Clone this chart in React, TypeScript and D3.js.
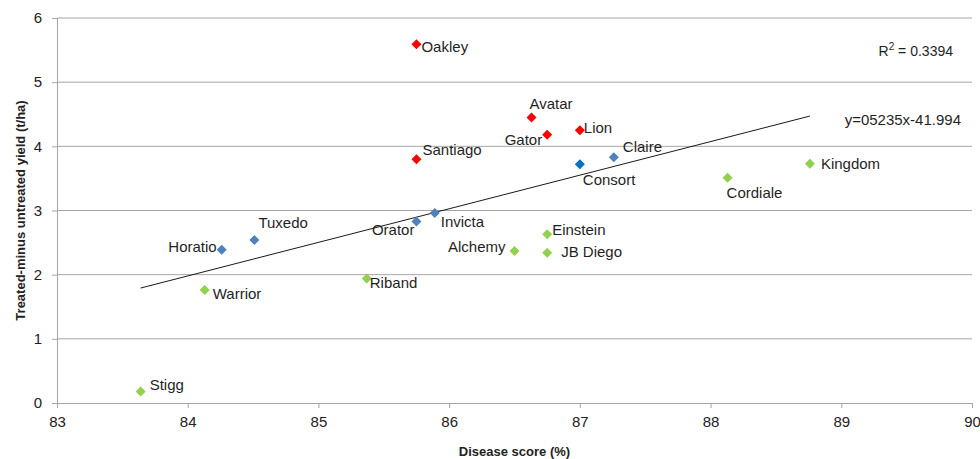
import { useEffect, useRef } from 'react';
import * as d3 from 'd3';

// varieties, disease score (%) and treated-minus-untreated yield (t/ha)
const names = [
  'Oakley', 'Avatar', 'Gator', 'Lion', 'Santiago',
  'Consort', 'Claire', 'Invicta', 'Orator', 'Horatio', 'Tuxedo',
  'Einstein', 'Alchemy', 'JB Diego', 'Riband', 'Warrior', 'Stigg', 'Cordiale', 'Kingdom',
];
const diseaseScore = [
  85.75, 86.63, 86.75, 87.0, 85.75,
  87.0, 87.26, 85.89, 85.75, 84.26, 84.51,
  86.75, 86.5, 86.75, 85.37, 84.13, 83.64, 88.13, 88.76,
];
const yieldDiff = [
  5.59, 4.45, 4.18, 4.25, 3.8,
  3.72, 3.83, 2.96, 2.83, 2.39, 2.54,
  2.63, 2.37, 2.34, 1.94, 1.76, 0.18, 3.51, 3.73,
];
const groups = [
  'red', 'red', 'red', 'red', 'red',
  'navy', 'blue', 'blue', 'blue', 'blue', 'blue',
  'green', 'green', 'green', 'green', 'green', 'green', 'green', 'green',
];

const xTicks = [83, 84, 85, 86, 87, 88, 89, 90];
const yTicks = [0, 1, 2, 3, 4, 5, 6];

// linear trend as printed on the chart
const slope = 0.5235;
const intercept = -41.994;

const COLORS: Record<string, string> = {
  red: '#ff0000',
  navy: '#0070c0',
  blue: '#4f81bd',
  green: '#92d050',
};

// label placement around each marker: [dx, dy, anchor]
const LABEL_POS: Record<string, [number, number, string]> = {
  Oakley: [5, 2, 'start'],
  Avatar: [-2, -14, 'start'],
  Gator: [-5, 5, 'end'],
  Lion: [4, -3, 'start'],
  Santiago: [6, -10, 'start'],
  Consort: [3, 15, 'start'],
  Claire: [9, -11, 'start'],
  Invicta: [6, 8, 'start'],
  Orator: [-2, 8, 'end'],
  Horatio: [-5, -3, 'end'],
  Tuxedo: [4, -18, 'start'],
  Einstein: [5, -5, 'start'],
  Alchemy: [-9, -4, 'end'],
  'JB Diego': [14, -1, 'start'],
  Riband: [3, 4, 'start'],
  Warrior: [8, 3, 'start'],
  Stigg: [9, -7, 'start'],
  Cordiale: [-1, 15, 'start'],
  Kingdom: [11, 0, 'start'],
};

const FONT = '"Liberation Sans", Arial, sans-serif';

export default function App() {
  const svgRef = useRef<SVGSVGElement>(null);

  useEffect(() => {
    if (!svgRef.current) return;
    const svg = d3.select(svgRef.current);
    svg.selectAll('*').remove();

    const width = 980;
    const height = 459;
    const margin = { left: 57, right: 8, top: 18, bottom: 56 };

    const x = d3.scaleLinear().domain([83, 90]).range([margin.left, width - margin.right]);
    const y = d3.scaleLinear().domain([0, 6]).range([height - margin.bottom, margin.top]);

    svg.attr('width', width).attr('height', height).style('font-family', FONT);

    // gridlines
    svg
      .append('g')
      .selectAll('line')
      .data(yTicks.filter((t) => t > 0))
      .enter()
      .append('line')
      .attr('x1', x(83))
      .attr('x2', x(90))
      .attr('y1', (d) => y(d))
      .attr('y2', (d) => y(d))
      .attr('stroke', '#a6a6a6')
      .attr('stroke-width', 1);

    // x axis
    const xAxis = svg
      .append('g')
      .attr('transform', `translate(0,${y(0)})`)
      .call(d3.axisBottom(x).tickValues(xTicks).tickSize(5).tickPadding(8).tickFormat(d3.format('d')));
    xAxis.select('.domain').attr('stroke', '#a6a6a6');
    xAxis.selectAll('.tick line').attr('stroke', '#a6a6a6');
    xAxis.selectAll('.tick text').attr('fill', '#222').style('font-size', '15px').style('font-family', FONT);

    // y axis
    const yAxis = svg
      .append('g')
      .attr('transform', `translate(${x(83)},0)`)
      .call(d3.axisLeft(y).tickValues(yTicks).tickSize(5).tickPadding(10).tickFormat(d3.format('d')));
    yAxis.select('.domain').attr('stroke', '#a6a6a6');
    yAxis.selectAll('.tick line').attr('stroke', '#a6a6a6');
    yAxis.selectAll('.tick text').attr('fill', '#222').style('font-size', '15px').style('font-family', FONT);

    // trend line
    const xs = d3.extent(diseaseScore) as [number, number];
    const line = d3
      .line<number>()
      .x((d) => x(d))
      .y((d) => y(slope * d + intercept));
    svg
      .append('path')
      .attr('d', line(xs))
      .attr('fill', 'none')
      .attr('stroke', '#1a1a1a')
      .attr('stroke-width', 1);

    const data = names.map((name, i) => ({
      name,
      score: diseaseScore[i],
      value: yieldDiff[i],
      group: groups[i],
    }));

    // markers
    const diamond = d3.symbol().type(d3.symbolDiamond2).size(64);
    svg
      .append('g')
      .selectAll('path')
      .data(data)
      .enter()
      .append('path')
      .attr('d', diamond)
      .attr('transform', (d) => `translate(${x(d.score)},${y(d.value)})`)
      .attr('fill', (d) => COLORS[d.group]);

    // labels
    svg
      .append('g')
      .selectAll('text')
      .data(data)
      .enter()
      .append('text')
      .attr('x', (d) => x(d.score) + LABEL_POS[d.name][0])
      .attr('y', (d) => y(d.value) + LABEL_POS[d.name][1])
      .attr('text-anchor', (d) => LABEL_POS[d.name][2])
      .attr('dominant-baseline', 'central')
      .attr('fill', '#1f1f1f')
      .style('font-size', '15px')
      .text((d) => d.name);

    // annotations
    svg
      .append('text')
      .attr('x', 953)
      .attr('y', 51)
      .attr('text-anchor', 'end')
      .attr('dominant-baseline', 'central')
      .attr('fill', '#1f1f1f')
      .style('font-size', '14px')
      .html('R<tspan dy="-5" font-size="10px">2</tspan><tspan dy="5"> = 0.3394</tspan>');

    svg
      .append('text')
      .attr('x', 961)
      .attr('y', 119)
      .attr('text-anchor', 'end')
      .attr('dominant-baseline', 'central')
      .attr('fill', '#1f1f1f')
      .style('font-size', '15px')
      .text('y=05235x-41.994');

    // axis titles
    svg
      .append('text')
      .attr('x', x(86.5))
      .attr('y', 451)
      .attr('text-anchor', 'middle')
      .attr('dominant-baseline', 'central')
      .attr('fill', '#222')
      .style('font-size', '13px')
      .style('font-weight', 'bold')
      .text('Disease score (%)');

    svg
      .append('text')
      .attr('transform', `translate(20,${(y(0) + y(6)) / 2}) rotate(-90)`)
      .attr('text-anchor', 'middle')
      .attr('dominant-baseline', 'central')
      .attr('fill', '#222')
      .style('font-size', '13px')
      .style('font-weight', 'bold')
      .text('Treated-minus untreated yield (t/ha)');
  }, []);

  return (
    <div style={{ position: 'absolute', left: 0, top: 0, background: '#fff' }}>
      <svg ref={svgRef}></svg>
    </div>
  );
}
